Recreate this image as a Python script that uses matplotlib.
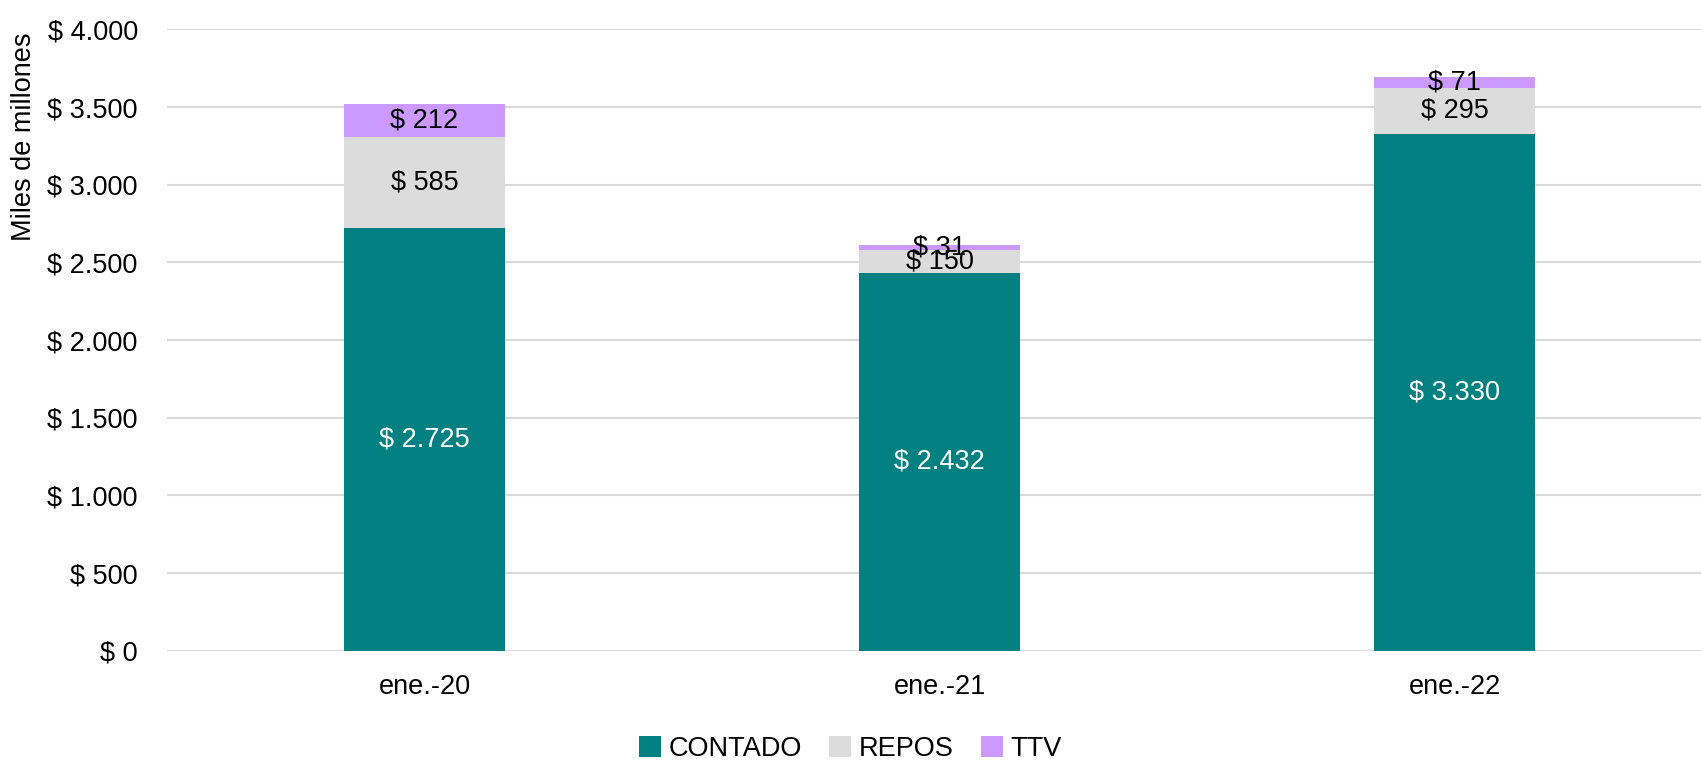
import matplotlib
matplotlib.use("Agg")
import matplotlib.pyplot as plt
import numpy as np
from matplotlib.patches import Patch

categories = ["ene.-20", "ene.-21", "ene.-22"]
contado = [2725, 2432, 3330]
repos = [585, 150, 295]
ttv = [212, 31, 71]
series_names = ["CONTADO", "REPOS", "TTV"]
yticks = [0, 500, 1000, 1500, 2000, 2500, 3000, 3500, 4000]

colors = ["#008080", "#DCDCDC", "#CC99FF"]
label_colors = ["white", "black", "black"]

plt.rcParams['font.family'] = ['Liberation Sans Narrow', 'Liberation Sans', 'DejaVu Sans']
FS = 19.5

def fmt(v):
    return "$ " + f"{v:,.0f}".replace(",", ".")

fig = plt.figure(figsize=(17.01, 7.62), dpi=100)
ax = fig.add_axes([167/1701, 111.3/762, 1 - 167/1701, (650.7-29.5)/762])

x = np.arange(len(categories))
w = 0.313
bottom = np.zeros(len(categories))
for vals, col, lc in zip([contado, repos, ttv], colors, label_colors):
    vals = np.array(vals, dtype=float)
    ax.bar(x, vals, w, bottom=bottom, color=col, zorder=3)
    for xi, b, v in zip(x, bottom, vals):
        ax.text(xi, b + v/2, fmt(v), ha="center", va="center", color=lc, fontsize=FS, zorder=4)
    bottom += vals

ax.set_ylim(0, 4000)
ax.set_xlim(-0.5, 2.478)
ax.set_yticks(yticks)
ax.set_yticklabels([fmt(v) for v in yticks])
ax.set_xticks(x)
ax.set_xticklabels(categories)
ax.tick_params(axis="y", length=0, pad=21, labelsize=FS)
ax.tick_params(axis="x", length=0, pad=17, labelsize=FS)
ax.grid(axis="y", color="#D9D9D9", linewidth=1.5, zorder=0)
ax.set_axisbelow(True)
for s in ax.spines.values():
    s.set_visible(False)

fig.text(24/1701, 1 - 137/762, "Miles de millones", rotation=90, ha="center", va="center", fontsize=FS)

handles = [Patch(facecolor=c, edgecolor="none") for c in colors]
fig.legend(handles, series_names, loc="center", bbox_to_anchor=(0.5, 1 - 749/762), ncol=3,
           frameon=False, fontsize=FS, handlelength=0.8, handleheight=0.8, handletextpad=0.3,
           columnspacing=1.0)

fig.savefig("out.png", dpi=100)
